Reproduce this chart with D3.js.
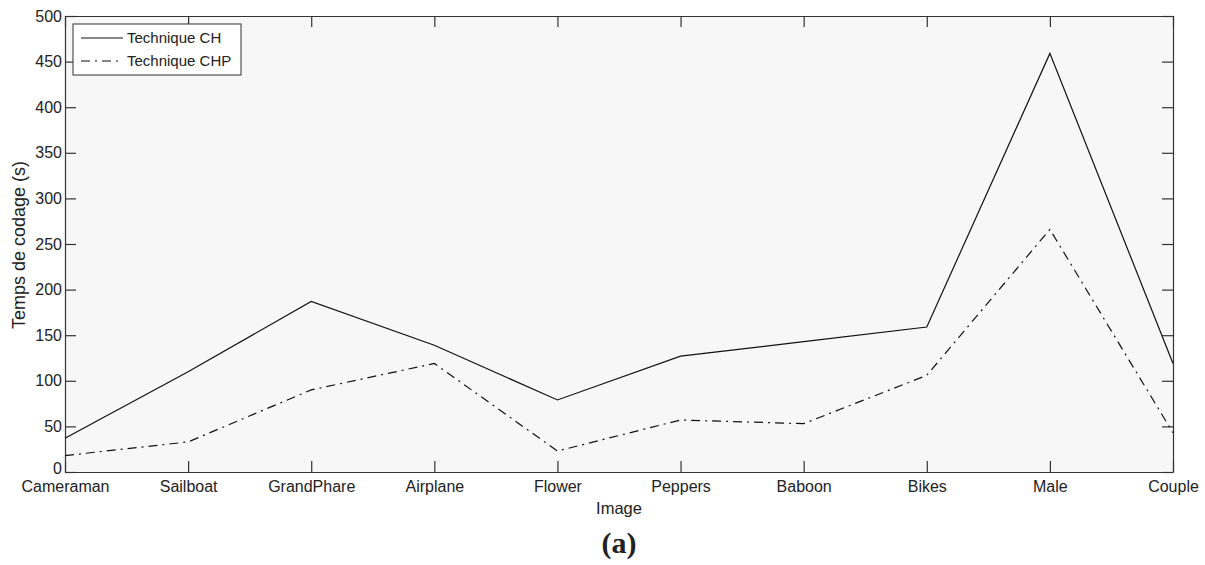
<!DOCTYPE html>
<html>
<head>
<meta charset="utf-8">
<script src="https://cdn.jsdelivr.net/npm/d3@7"></script>
<style>
  body { margin: 0; background: #fff; }
  text { font-family: "Liberation Sans", Arial, sans-serif; fill: #222; }
</style>
</head>
<body>
<div id="chart-area"></div>
<script>
// data
var images = ['Cameraman','Sailboat','GrandPhare','Airplane','Flower','Peppers','Baboon','Bikes','Male','Couple'];
var valuesCH  = [37, 110, 187, 139, 79, 127, 143, 159, 459, 119];
var valuesCHP = [18, 33, 90, 119, 23, 57, 53, 106, 266, 43];
var yTicks = [0, 50, 100, 150, 200, 250, 300, 350, 400, 450, 500];
var seriesNames = ['Technique CH', 'Technique CHP'];

var def = {
    width: 1205,
    height: 565,
    left: 65,
    right: 1173,
    top: 16,
    bottom: 472,
    tick: 11
};

var svg = d3.select('#chart-area').append('svg')
    .attr('width', def.width)
    .attr('height', def.height);

var x = d3.scalePoint()
    .domain(images)
    .range([def.left, def.right]);

var y = d3.scaleLinear()
    .domain([0, 500])
    .range([def.bottom, def.top]);

// plot background
svg.append('rect')
    .attr('x', def.left).attr('y', def.top)
    .attr('width', def.right - def.left)
    .attr('height', def.bottom - def.top)
    .attr('fill', '#f7f7f7');

// axes, ticks inward like matlab
var xAx = svg.append('g')
    .attr('transform', 'translate(0,' + def.bottom + ')')
    .call(d3.axisBottom(x).tickSizeInner(-def.tick).tickSizeOuter(0).tickPadding(9));
var xTop = svg.append('g')
    .attr('transform', 'translate(0,' + def.top + ')')
    .call(d3.axisTop(x).tickSizeInner(-def.tick).tickSizeOuter(0).tickFormat(''));
var yAx = svg.append('g')
    .attr('transform', 'translate(' + def.left + ',0)')
    .call(d3.axisLeft(y).tickValues(yTicks).tickSizeInner(-def.tick).tickSizeOuter(0).tickPadding(3));
var yRight = svg.append('g')
    .attr('transform', 'translate(' + def.right + ',0)')
    .call(d3.axisRight(y).tickValues(yTicks).tickSizeInner(-def.tick).tickSizeOuter(0).tickFormat(''));

svg.selectAll('.domain').attr('stroke', '#333').attr('stroke-width', 1.2);
svg.selectAll('.tick line').attr('stroke', '#333').attr('stroke-width', 1.2);
svg.selectAll('.tick text')
    .attr('font-size', '16px')
    .attr('font-family', '"Liberation Sans", Arial, sans-serif')
    .attr('fill', '#222');
// "0" sits a little higher so it clears Cameraman
yAx.selectAll('.tick text').filter(d => d === 0).attr('dy', '0.12em');

// lines
var line = d3.line()
    .x((d, i) => x(images[i]))
    .y(d => y(d));

svg.append('path')
    .datum(valuesCH)
    .attr('d', line)
    .attr('fill', 'none')
    .attr('stroke', '#111')
    .attr('stroke-width', 1.2);

svg.append('path')
    .datum(valuesCHP)
    .attr('d', line)
    .attr('fill', 'none')
    .attr('stroke', '#111')
    .attr('stroke-width', 1.2)
    .attr('stroke-dasharray', '9,5,2,5');

// legend
var legend = svg.append('g').attr('transform', 'translate(73,24)');
legend.append('rect')
    .attr('width', 168).attr('height', 51)
    .attr('fill', '#fff')
    .attr('stroke', '#333')
    .attr('stroke-width', 1);
seriesNames.forEach((name, i) => {
    var row = legend.append('g').attr('transform', 'translate(0,' + (14 + i * 23) + ')');
    row.append('line')
        .attr('x1', 8).attr('x2', 50)
        .attr('y1', 0).attr('y2', 0)
        .attr('stroke', '#111')
        .attr('stroke-width', 1.2)
        .attr('stroke-dasharray', i == 1 ? '9,5,2,5' : null);
    row.append('text')
        .attr('x', 54).attr('y', 0)
        .attr('dy', '0.35em')
        .attr('font-size', '15px')
        .text(name);
});

// axis labels
svg.append('text')
    .attr('x', (def.left + def.right) / 2)
    .attr('y', 514)
    .attr('text-anchor', 'middle')
    .attr('font-size', '16.5px')
    .text('Image');

svg.append('text')
    .attr('transform', 'translate(25,245) rotate(-90)')
    .attr('text-anchor', 'middle')
    .attr('font-size', '18px')
    .text('Temps de codage (s)');

svg.append('text')
    .attr('x', 619)
    .attr('y', 553)
    .attr('text-anchor', 'middle')
    .attr('font-size', '30px')
    .attr('font-weight', 'bold')
    .style('font-family', '"Liberation Serif", "Times New Roman", serif')
    .text('(a)');
</script>
</body>
</html>
